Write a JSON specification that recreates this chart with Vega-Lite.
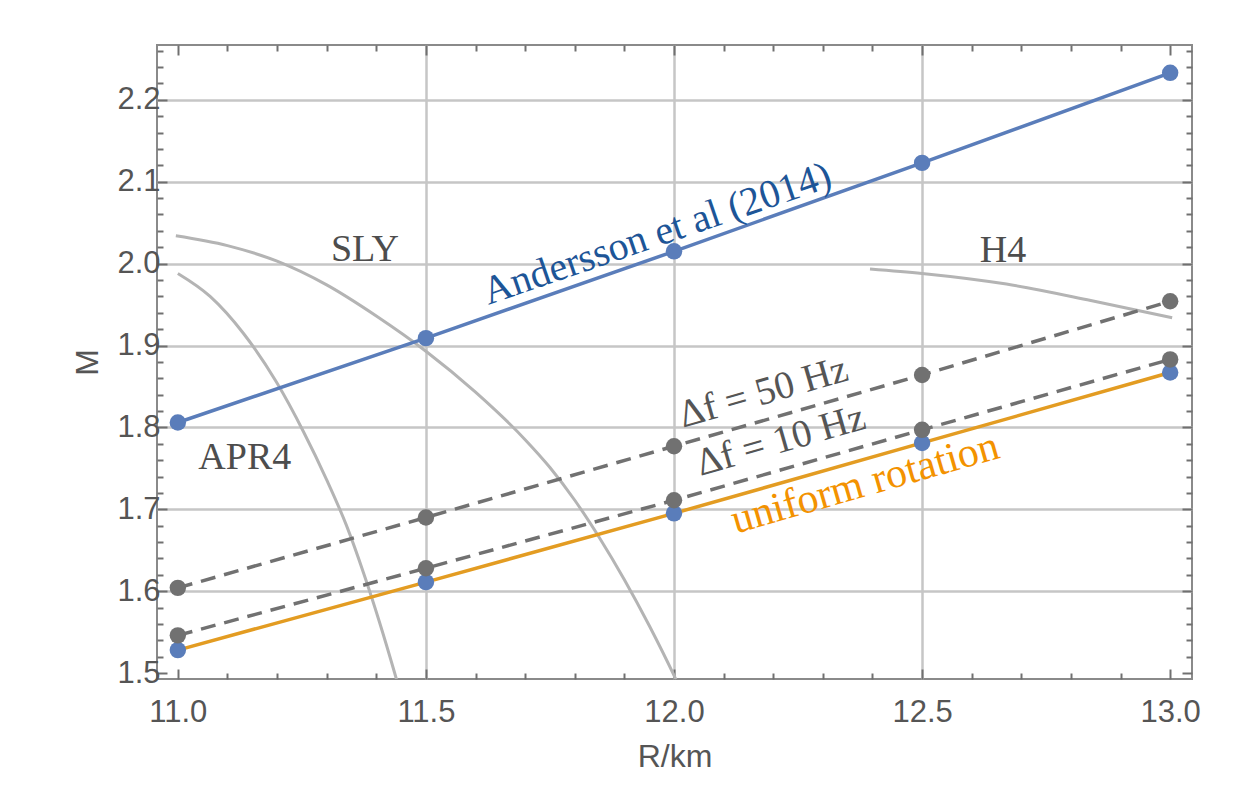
{
  "$schema": "https://vega.github.io/schema/vega-lite/v6.json",
  "autosize": {"type": "none"},
  "width": 1035,
  "height": 634,
  "padding": {"left": 157, "top": 45, "right": 47, "bottom": 119},
  "background": "#ffffff",
  "config": {
    "view": {"stroke": "#8a8a8a", "strokeWidth": 2},
    "axis": {
      "domain": false,
      "tickColor": "#707070",
      "tickWidth": 2,
      "labelFont": "Liberation Sans",
      "labelFontSize": 31,
      "labelColor": "#555555",
      "titleFont": "Liberation Sans",
      "titleFontSize": 32,
      "titleFontWeight": "normal",
      "titleColor": "#555555",
      "gridColor": "#c6c6c6",
      "gridWidth": 2.5
    }
  },
  "datasets": {
    "series": [
      {"series": "andersson", "R": 11.0, "M": 1.806},
      {"series": "andersson", "R": 11.5, "M": 1.909},
      {"series": "andersson", "R": 12.0, "M": 2.015},
      {"series": "andersson", "R": 12.5, "M": 2.123},
      {"series": "andersson", "R": 13.0, "M": 2.233},
      {"series": "df50", "R": 11.0, "M": 1.604},
      {"series": "df50", "R": 11.5, "M": 1.690},
      {"series": "df50", "R": 12.0, "M": 1.777},
      {"series": "df50", "R": 12.5, "M": 1.864},
      {"series": "df50", "R": 13.0, "M": 1.954},
      {"series": "df10", "R": 11.0, "M": 1.546},
      {"series": "df10", "R": 11.5, "M": 1.628},
      {"series": "df10", "R": 12.0, "M": 1.711},
      {"series": "df10", "R": 12.5, "M": 1.797},
      {"series": "df10", "R": 13.0, "M": 1.883},
      {"series": "uniform", "R": 11.0, "M": 1.528},
      {"series": "uniform", "R": 11.5, "M": 1.611},
      {"series": "uniform", "R": 12.0, "M": 1.695},
      {"series": "uniform", "R": 12.5, "M": 1.781},
      {"series": "uniform", "R": 13.0, "M": 1.867}
    ],
    "eos": [
      {"eos": "SLY", "R": 10.996, "M": 2.034},
      {"eos": "SLY", "R": 11.1, "M": 2.022},
      {"eos": "SLY", "R": 11.2, "M": 2.003},
      {"eos": "SLY", "R": 11.3, "M": 1.974},
      {"eos": "SLY", "R": 11.4, "M": 1.936},
      {"eos": "SLY", "R": 11.5, "M": 1.893},
      {"eos": "SLY", "R": 11.6, "M": 1.843},
      {"eos": "SLY", "R": 11.7, "M": 1.785},
      {"eos": "SLY", "R": 11.75, "M": 1.751},
      {"eos": "SLY", "R": 11.8, "M": 1.711},
      {"eos": "SLY", "R": 11.85, "M": 1.665},
      {"eos": "SLY", "R": 11.9, "M": 1.614},
      {"eos": "SLY", "R": 11.95, "M": 1.558},
      {"eos": "SLY", "R": 12.0, "M": 1.497},
      {"eos": "SLY", "R": 12.01, "M": 1.484},
      {"eos": "APR4", "R": 11.0, "M": 1.988},
      {"eos": "APR4", "R": 11.065, "M": 1.96},
      {"eos": "APR4", "R": 11.132, "M": 1.915},
      {"eos": "APR4", "R": 11.199, "M": 1.855},
      {"eos": "APR4", "R": 11.253, "M": 1.795},
      {"eos": "APR4", "R": 11.3, "M": 1.736},
      {"eos": "APR4", "R": 11.34, "M": 1.68},
      {"eos": "APR4", "R": 11.375, "M": 1.621},
      {"eos": "APR4", "R": 11.406, "M": 1.563},
      {"eos": "APR4", "R": 11.437, "M": 1.5},
      {"eos": "APR4", "R": 11.445, "M": 1.483},
      {"eos": "H4", "R": 12.395, "M": 1.9935},
      {"eos": "H4", "R": 12.5, "M": 1.988},
      {"eos": "H4", "R": 12.67, "M": 1.975},
      {"eos": "H4", "R": 12.84, "M": 1.955},
      {"eos": "H4", "R": 13.004, "M": 1.934}
    ],
    "labels": [
      {"label": "SLY", "R": 11.377, "M": 2.017},
      {"label": "APR4", "R": 11.135, "M": 1.762},
      {"label": "H4", "R": 12.663, "M": 2.016},
      {"label": "Andersson et al (2014)", "R": 11.966, "M": 2.036},
      {"label": "Δf = 50 Hz", "R": 12.18, "M": 1.843},
      {"label": "Δf = 10 Hz", "R": 12.215, "M": 1.784},
      {"label": "uniform rotation", "R": 12.385, "M": 1.732}
    ]
  },
  "resolve": {"axis": {"x": "independent", "y": "independent"}},
  "layer": [
    {
      "data": {"name": "eos"},
      "mark": {"type": "line", "color": "#b4b4b4", "strokeWidth": 3, "interpolate": "monotone", "clip": true},
      "encoding": {
        "x": {
          "field": "R", "type": "quantitative",
          "scale": {"domain": [10.958, 13.044], "nice": false, "zero": false},
          "axis": {
            "orient": "bottom",
            "title": "R/km",
            "titlePadding": 14,
            "labelPadding": 28,
            "values": [11.0, 11.1, 11.2, 11.3, 11.4, 11.5, 11.6, 11.7, 11.8, 11.9, 12.0, 12.1, 12.2, 12.3, 12.4, 12.5, 12.6, 12.7, 12.8, 12.9, 13.0],
            "labelExpr": "abs(datum.value*2 - round(datum.value*2)) < 0.001 ? format(datum.value, '.1f') : ''",
            "tickSize": {"condition": {"test": "abs(datum.value*2 - round(datum.value*2)) < 0.001", "value": -10}, "value": -6},
            "grid": true,
            "gridOpacity": {"condition": {"test": "abs(datum.value*2 - round(datum.value*2)) < 0.001 && datum.value > 11.05 && datum.value < 12.95", "value": 1}, "value": 0}
          }
        },
        "y": {
          "field": "M", "type": "quantitative",
          "scale": {"domain": [1.4927, 2.267], "nice": false, "zero": false},
          "axis": {
            "orient": "left",
            "title": "M",
            "titlePadding": 12,
            "labelPadding": 7,
            "values": [1.5, 1.52, 1.54, 1.56, 1.58, 1.6, 1.62, 1.64, 1.66, 1.68, 1.7, 1.72, 1.74, 1.76, 1.78, 1.8, 1.82, 1.84, 1.86, 1.88, 1.9, 1.92, 1.94, 1.96, 1.98, 2.0, 2.02, 2.04, 2.06, 2.08, 2.1, 2.12, 2.14, 2.16, 2.18, 2.2, 2.22, 2.24, 2.26],
            "labelExpr": "abs(datum.value*10 - round(datum.value*10)) < 0.001 ? format(datum.value, '.1f') : ''",
            "tickSize": {"condition": {"test": "abs(datum.value*10 - round(datum.value*10)) < 0.001", "value": -10}, "value": -6},
            "grid": true,
            "gridOpacity": {"condition": {"test": "abs(datum.value*10 - round(datum.value*10)) < 0.001 && datum.value > 1.55", "value": 1}, "value": 0}
          }
        },
        "detail": {"field": "eos"}
      }
    },
    {
      "data": {"name": "series"},
      "transform": [{"filter": "datum.series === 'uniform'"}],
      "mark": {"type": "line", "color": "#e39c22", "strokeWidth": 3.5},
      "encoding": {
        "x": {
          "field": "R", "type": "quantitative",
          "axis": {
            "orient": "top", "title": null, "labels": false, "grid": false,
            "values": [11.0, 11.1, 11.2, 11.3, 11.4, 11.5, 11.6, 11.7, 11.8, 11.9, 12.0, 12.1, 12.2, 12.3, 12.4, 12.5, 12.6, 12.7, 12.8, 12.9, 13.0],
            "tickSize": {"condition": {"test": "abs(datum.value*2 - round(datum.value*2)) < 0.001", "value": -10}, "value": -6}
          }
        },
        "y": {
          "field": "M", "type": "quantitative",
          "axis": {
            "orient": "right", "title": null, "labels": false, "grid": false,
            "values": [1.5, 1.52, 1.54, 1.56, 1.58, 1.6, 1.62, 1.64, 1.66, 1.68, 1.7, 1.72, 1.74, 1.76, 1.78, 1.8, 1.82, 1.84, 1.86, 1.88, 1.9, 1.92, 1.94, 1.96, 1.98, 2.0, 2.02, 2.04, 2.06, 2.08, 2.1, 2.12, 2.14, 2.16, 2.18, 2.2, 2.22, 2.24, 2.26],
            "tickSize": {"condition": {"test": "abs(datum.value*10 - round(datum.value*10)) < 0.001", "value": -10}, "value": -6}
          }
        }
      }
    },
    {
      "data": {"name": "series"},
      "transform": [{"filter": "datum.series === 'uniform'"}],
      "mark": {"type": "point", "filled": true, "opacity": 1, "color": "#5a7dba", "size": 270},
      "encoding": {
        "x": {"field": "R", "type": "quantitative", "axis": null},
        "y": {"field": "M", "type": "quantitative", "axis": null}
      }
    },
    {
      "data": {"name": "series"},
      "transform": [{"filter": "datum.series === 'df50' || datum.series === 'df10'"}],
      "mark": {"type": "line", "color": "#717171", "strokeWidth": 3.5, "strokeDash": [15, 9]},
      "encoding": {
        "x": {"field": "R", "type": "quantitative", "axis": null},
        "y": {"field": "M", "type": "quantitative", "axis": null},
        "detail": {"field": "series"}
      }
    },
    {
      "data": {"name": "series"},
      "transform": [{"filter": "datum.series === 'df50' || datum.series === 'df10'"}],
      "mark": {"type": "point", "filled": true, "opacity": 1, "color": "#717171", "size": 270},
      "encoding": {
        "x": {"field": "R", "type": "quantitative", "axis": null},
        "y": {"field": "M", "type": "quantitative", "axis": null}
      }
    },
    {
      "data": {"name": "series"},
      "transform": [{"filter": "datum.series === 'andersson'"}],
      "mark": {"type": "line", "color": "#5a7dba", "strokeWidth": 3.5},
      "encoding": {
        "x": {"field": "R", "type": "quantitative", "axis": null},
        "y": {"field": "M", "type": "quantitative", "axis": null}
      }
    },
    {
      "data": {"name": "series"},
      "transform": [{"filter": "datum.series === 'andersson'"}],
      "mark": {"type": "point", "filled": true, "opacity": 1, "color": "#5a7dba", "size": 270},
      "encoding": {
        "x": {"field": "R", "type": "quantitative", "axis": null},
        "y": {"field": "M", "type": "quantitative", "axis": null}
      }
    },
    {
      "data": {"name": "labels"},
      "transform": [{"filter": "datum.label === 'SLY' || datum.label === 'APR4' || datum.label === 'H4'"}],
      "mark": {"type": "text", "font": "Liberation Serif", "fontSize": 38, "color": "#4d4d4d", "align": "center", "baseline": "middle"},
      "encoding": {
        "x": {"field": "R", "type": "quantitative", "axis": null},
        "y": {"field": "M", "type": "quantitative", "axis": null},
        "text": {"field": "label"}
      }
    },
    {
      "data": {"name": "labels"},
      "transform": [{"filter": "datum.label === 'Andersson et al (2014)'"}],
      "mark": {"type": "text", "font": "Liberation Serif", "fontSize": 40, "color": "#1d5597", "align": "center", "baseline": "middle", "angle": -19},
      "encoding": {
        "x": {"field": "R", "type": "quantitative", "axis": null},
        "y": {"field": "M", "type": "quantitative", "axis": null},
        "text": {"field": "label"}
      }
    },
    {
      "data": {"name": "labels"},
      "transform": [{"filter": "indexof(datum.label, 'Hz') >= 0"}],
      "mark": {"type": "text", "font": "Liberation Serif", "fontSize": 39, "color": "#555555", "align": "center", "baseline": "middle", "angle": -16},
      "encoding": {
        "x": {"field": "R", "type": "quantitative", "axis": null},
        "y": {"field": "M", "type": "quantitative", "axis": null},
        "text": {"field": "label"}
      }
    },
    {
      "data": {"name": "labels"},
      "transform": [{"filter": "datum.label === 'uniform rotation'"}],
      "mark": {"type": "text", "font": "Liberation Serif", "fontSize": 42, "color": "#f39200", "align": "center", "baseline": "middle", "angle": -16},
      "encoding": {
        "x": {"field": "R", "type": "quantitative", "axis": null},
        "y": {"field": "M", "type": "quantitative", "axis": null},
        "text": {"field": "label"}
      }
    }
  ]
}
